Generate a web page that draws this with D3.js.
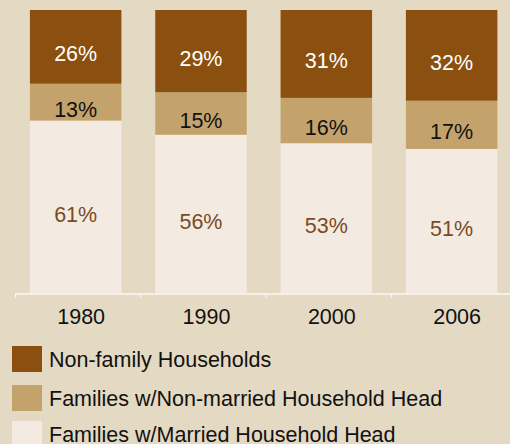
<!DOCTYPE html>
<html>
<head>
<meta charset="utf-8">
<script src="https://cdn.jsdelivr.net/npm/d3@7"></script>
<style>
  html, body { margin: 0; padding: 0; background: #e4d9c3; }
  svg { display: block; font-family: "Liberation Sans", Arial, sans-serif; }
</style>
</head>
<body>
<svg id="chart" width="510" height="444"></svg>
<script>
const years = ["1980", "1990", "2000", "2006"];
const married = [61, 56, 53, 51];
const nonMarried = [13, 15, 16, 17];
const nonFamily = [26, 29, 31, 32];
const seriesNames = ["Families w/Married Household Head", "Families w/Non-married Household Head", "Non-family Households"];
const seriesColors = ["#f3ebe2", "#c4a26c", "#8b4f10"];
const labelColors = ["#7b4a1e", "#111111", "#ffffff"];
const legendOrder = [2, 1, 0];

const svg = d3.select("#chart");
const W = 510, H = 444;
const plotTop = 10, plotBottom = 293.5;
const FS = "21.5px";

const rows = years.map((yr, i) => ({ year: yr, s0: married[i], s1: nonMarried[i], s2: nonFamily[i] }));
const stack = d3.stack().keys(["s0", "s1", "s2"]);
const layers = stack(rows);

const x = d3.scaleBand().domain(years).range([15, 516.3]).paddingInner(0.27).paddingOuter(0.135);
const y = d3.scaleLinear().domain([0, 100]).range([plotBottom, plotTop]);

const g = svg.append("g");
layers.forEach((layer, li) => {
  g.selectAll(null).data(layer).enter().append("rect")
    .attr("x", d => x(d.data.year) - 2)
    .attr("width", x.bandwidth())
    .attr("y", d => y(d[1]))
    .attr("height", d => y(d[0]) - y(d[1]))
    .attr("fill", seriesColors[li]);
  g.selectAll(null).data(layer).enter().append("text")
    .attr("x", d => x(d.data.year) - 2 + x.bandwidth() / 2)
    .attr("y", d => (y(d[0]) + y(d[1])) / 2 + 14.5)
    .attr("text-anchor", "middle")
    .attr("font-size", FS)
    .attr("fill", labelColors[li])
    .text(d => (d[1] - d[0]) + "%");
});

// axis
const xAxisScale = d3.scalePoint().domain([0, 1, 2, 3, 4]).range([15, 516.3]);
const axisG = svg.append("g");
axisG.append("line").attr("x1", 15).attr("x2", W).attr("y1", plotBottom + 0.5).attr("y2", plotBottom + 0.5)
  .attr("stroke", "#faf7f2").attr("stroke-width", 1.5);
axisG.selectAll("line.tick").data(xAxisScale.domain()).enter().append("line")
  .attr("class", "tick")
  .attr("x1", d => xAxisScale(d) + 0.5).attr("x2", d => xAxisScale(d) + 0.5)
  .attr("y1", plotBottom).attr("y2", plotBottom + 4.5)
  .attr("stroke", "#faf7f2").attr("stroke-width", 1);
axisG.selectAll("text").data(years).enter().append("text")
  .attr("x", d => x(d) + x.bandwidth() / 2 + 3.5)
  .attr("y", 324)
  .attr("text-anchor", "middle")
  .attr("font-size", FS)
  .attr("fill", "#111")
  .text(d => d);

// legend
const legendTops = [346, 385, 421];
const leg = svg.append("g");
legendOrder.forEach((si, k) => {
  const yy = legendTops[k];
  leg.append("rect").attr("x", 12).attr("y", yy).attr("width", 30).attr("height", 26).attr("fill", seriesColors[si]);
  leg.append("text").attr("x", 49).attr("y", yy + 20.5).attr("font-size", FS).attr("fill", "#111").text(seriesNames[si]);
});
</script>
</body>
</html>
